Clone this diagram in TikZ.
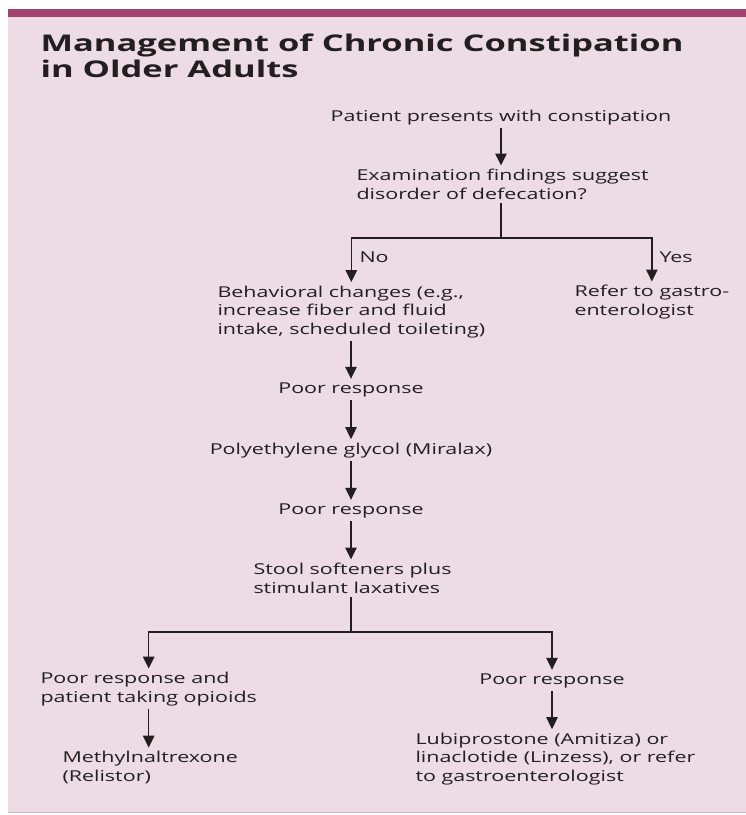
\documentclass[tikz,border=0pt]{standalone}
\usepackage{fontspec}
\setmainfont{Open Sans}[FakeStretch=1.43]
\newfontfamily\titlefont{Open Sans}[FakeStretch=1.5]
\usetikzlibrary{arrows.meta}
\definecolor{ink}{HTML}{231F20}
\definecolor{panel}{HTML}{EDDBE6}
\definecolor{bar}{HTML}{A4426F}
\definecolor{edge}{HTML}{DDAACB}
\tikzset{
  txt/.style={align=left,inner sep=0pt,outer sep=3.5pt,anchor=base west,text=ink,font=\fontsize{15}{18.5}\selectfont},
  mid/.style={txt,anchor=base},
  ttl/.style={txt,font=\titlefont\bfseries\fontsize{23}{26.3}\selectfont},
  ln/.style={draw=ink,line width=1.3pt},
  ar/.style={ln,-{Triangle[length=12pt,width=11.5pt]}},
}
\begin{document}
\begin{tikzpicture}[x=1pt,y=-1pt]
  \useasboundingbox (0,0) rectangle (746,815);
  % panel
  \fill[panel] (8,17) rectangle (746,813);
  \fill[bar] (8,9) rectangle (746,17);
  \draw[edge,line width=1.5pt] (8,812.5) -- (746,812.5);
  \node[ttl] (title) at (37,77.3) {Management of Chronic Constipation\\in Older Adults};
  % first decision
  \node[mid] (pat) at (501,121) {Patient presents with constipation};
  \node[txt] (exam) at (353,199) {Examination findings suggest\\disorder of defecation?};
  \node[txt] (no) at (356,262) {No};
  \node[txt] (yes) at (656,262) {Yes};
  \node[txt] (behav) at (214,334) {Behavioral changes (e.g.,\\increase fiber and fluid\\intake, scheduled toileting)};
  \node[txt] (refer) at (571,315) {Refer to gastro-\\enterologist};
  \draw[ar] (pat.south) -- (pat.south |- exam.north);
  \coordinate (j1) at (pat.south |- 0,238);
  \draw[ln] (pat.south |- exam.south) -- (j1);
  \draw[ar] (j1) -| (behav.north);
  \draw[ar] (j1) -| (refer.north);
  % main line
  \node[mid] (poor1) at (351,393) {Poor response};
  \node[mid] (peg) at (351,454) {Polyethylene glycol (Miralax)};
  \node[mid] (poor2) at (351,514) {Poor response};
  \node[txt] (stool) at (250,593) {Stool softeners plus\\stimulant laxatives};
  \draw[ar] (poor1.north |- behav.south) -- (poor1.north);
  \draw[ar] (poor1.south) -- (peg.north);
  \draw[ar] (peg.south) -- (poor2.north);
  \draw[ar] (poor2.south) -- (poor2.south |- stool.north);
  % second split
  \node[txt] (opi) at (37,702) {Poor response and\\patient taking opioids};
  \node[mid] (poor3) at (552,684) {Poor response};
  \node[txt] (methyl) at (59,781) {Methylnaltrexone\\(Relistor)};
  \node[txt] (lubi) at (412,781) {Lubiprostone (Amitiza) or\\linaclotide (Linzess), or refer\\to gastroenterologist};
  \coordinate (j2) at (poor2.south |- 0,632);
  \draw[ln] (poor2.south |- stool.south) -- (j2);
  \draw[ar] (j2) -| (opi.north);
  \draw[ar] (j2) -| (poor3.north);
  \draw[ar] (opi.south) -- (opi.south |- methyl.north);
  \draw[ar] (poor3.south) -- (poor3.south |- lubi.north);
\end{tikzpicture}
\end{document}
